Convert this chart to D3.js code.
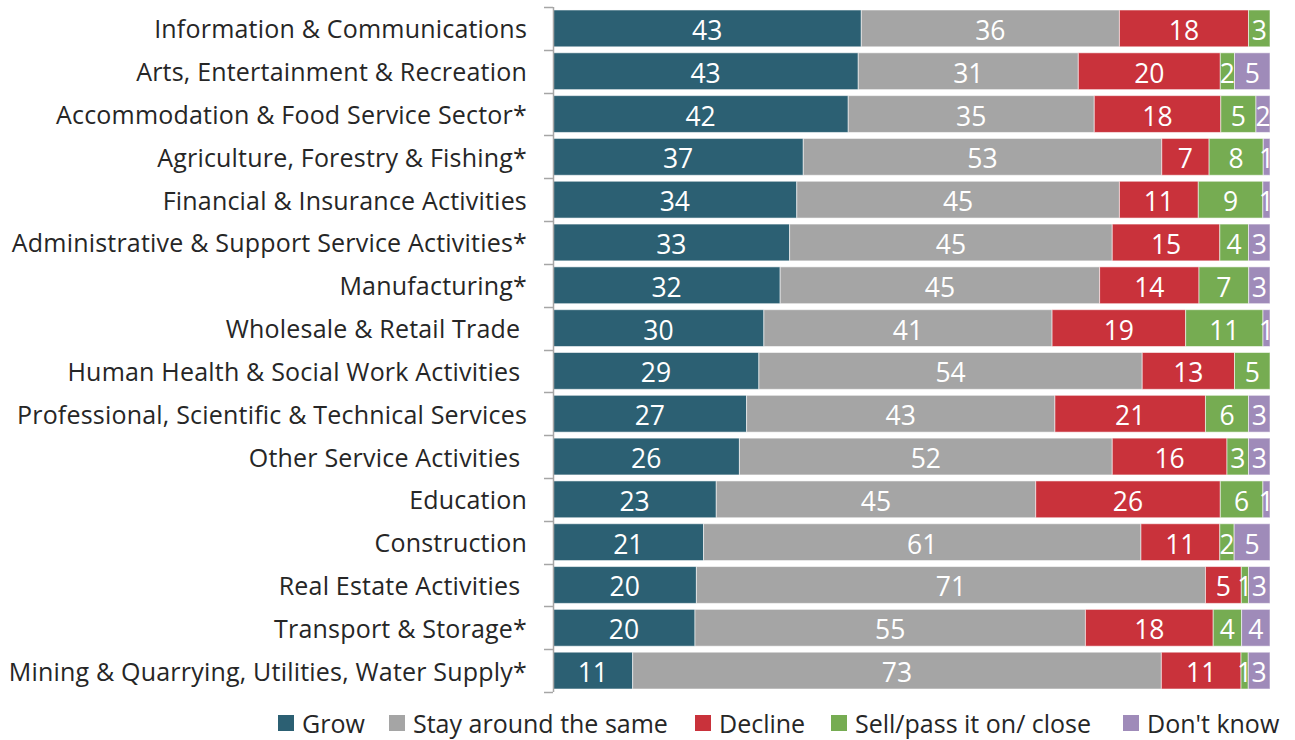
<!DOCTYPE html>
<html>
<head>
<meta charset="utf-8">
<script src="https://cdn.jsdelivr.net/npm/d3@7"></script>
<style>
  html, body { margin: 0; padding: 0; background: #fff; }
  svg { display: block; font-family: "Open Sans", "Noto Sans", sans-serif; }
  text { white-space: pre; }
</style>
</head>
<body>
<svg id="chart" width="1295" height="740"></svg>
<script>
// Sectors, top to bottom
const categories = [
  "Information & Communications",
  "Arts, Entertainment & Recreation",
  "Accommodation & Food Service Sector*",
  "Agriculture, Forestry & Fishing*",
  "Financial & Insurance Activities",
  "Administrative & Support Service Activities*",
  "Manufacturing*",
  "Wholesale & Retail Trade ",
  "Human Health & Social Work Activities ",
  "Professional, Scientific & Technical Services",
  "Other Service Activities ",
  "Education",
  "Construction",
  "Real Estate Activities ",
  "Transport & Storage*",
  "Mining & Quarrying, Utilities, Water Supply*"
];

const seriesNames = ["Grow", "Stay around the same", "Decline", "Sell/pass it on/ close", "Don't know"];

// Percentages per series, one value per sector
const grow    = [43, 43, 42, 37, 34, 33, 32, 30, 29, 27, 26, 23, 21, 20, 20, 11];
const same    = [36, 31, 35, 53, 45, 45, 45, 41, 54, 43, 52, 45, 61, 71, 55, 73];
const decline = [18, 20, 18,  7, 11, 15, 14, 19, 13, 21, 16, 26, 11,  5, 18, 11];
const sell    = [ 3,  2,  5,  8,  9,  4,  7, 11,  5,  6,  3,  6,  2,  1,  4,  1];
const dontKnow= [ 0,  5,  2,  1,  1,  3,  3,  1,  0,  3,  3,  1,  5,  3,  4,  3];

const colors = ["#2c6073", "#a5a5a5", "#c9323b", "#76ac52", "#9f8bb9"];

const seriesValues = [grow, same, decline, sell, dontKnow];

// Build rows for d3.stack, normalised to 100% per sector
const rows = categories.map((c, i) => {
  const r = { category: c };
  seriesNames.forEach((s, k) => { r[s] = seriesValues[k][i]; });
  return r;
});

const stack = d3.stack().keys(seriesNames).offset(d3.stackOffsetExpand);
const layers = stack(rows);

const svg = d3.select("#chart");
const plotLeft = 553, plotRight = 1270, plotTop = 7, plotBottom = 692;

const x = d3.scaleLinear().domain([0, 1]).range([plotLeft, plotRight]);
const y = d3.scaleBand().domain(categories).range([plotTop, plotBottom])
  .paddingInner(0.14).paddingOuter(0.07);
const color = d3.scaleOrdinal().domain(seriesNames).range(colors);

// Segments
const g = svg.append("g");
g.selectAll("g.layer").data(layers).join("g")
  .attr("class", "layer")
  .attr("fill", d => color(d.key))
  .selectAll("rect").data(d => d.map(p => ({ p, key: d.key })))
  .join("rect")
  .attr("x", d => x(d.p[0]))
  .attr("y", d => y(d.p.data.category))
  .attr("width", d => Math.max(0, x(d.p[1]) - x(d.p[0])))
  .attr("height", y.bandwidth())
  .attr("stroke", "#ffffff")
  .attr("stroke-opacity", 0.55)
  .attr("stroke-width", 1);

// Value labels, clipped to the plot area
svg.append("clipPath").attr("id", "plotClip")
  .append("rect").attr("x", plotLeft).attr("y", 0).attr("width", plotRight - plotLeft).attr("height", 740);

const lab = svg.append("g").attr("clip-path", "url(#plotClip)");
layers.forEach(layer => {
  layer.forEach(p => {
    const v = p.data[layer.key];
    if (!v) return;
    lab.append("text")
      .attr("x", (x(p[0]) + x(p[1])) / 2)
      .attr("y", y(p.data.category) + y.bandwidth() / 2 + 1.5)
      .attr("text-anchor", "middle")
      .attr("dominant-baseline", "central")
      .attr("fill", "#ffffff")
      .attr("font-size", 26.5)
      .text(v);
  });
});

// Category axis: line with ticks between bands
const axis = svg.append("g");
const step = y.step();
const boundaries = [plotTop].concat(categories.map(c => y(c) + y.bandwidth() + (step - y.bandwidth()) / 2));
axis.append("line")
  .attr("x1", plotLeft + 0.5).attr("x2", plotLeft + 0.5)
  .attr("y1", plotTop).attr("y2", plotBottom)
  .attr("stroke", "#a6a6a6").attr("stroke-width", 1.5);
axis.selectAll("line.tick").data(boundaries).join("line")
  .attr("class", "tick")
  .attr("x1", plotLeft - 9).attr("x2", plotLeft)
  .attr("y1", d => Math.round(d) + 0.5).attr("y2", d => Math.round(d) + 0.5)
  .attr("stroke", "#a6a6a6").attr("stroke-width", 1.5);

axis.selectAll("text.cat").data(categories).join("text")
  .attr("class", "cat")
  .attr("x", 527)
  .attr("y", d => y(d) + y.bandwidth() / 2)
  .attr("text-anchor", "end")
  .attr("dominant-baseline", "central")
  .attr("fill", "#262626")
  .attr("font-size", 25)
  .attr("letter-spacing", 0.2)
  .text(d => d);

// Legend
const legendItems = [
  { name: "Grow", x: 278 },
  { name: "Stay around the same", x: 389 },
  { name: "Decline", x: 695 },
  { name: "Sell/pass it on/ close", x: 831 },
  { name: "Don't know", x: 1123 }
];
const legend = svg.append("g");
legendItems.forEach(it => {
  legend.append("rect")
    .attr("x", it.x).attr("y", 715).attr("width", 16).attr("height", 16)
    .attr("fill", color(it.name));
  legend.append("text")
    .attr("x", it.x + 24).attr("y", 723)
    .attr("dominant-baseline", "central")
    .attr("fill", "#262626")
    .attr("font-size", 25)
    .text(it.name);
});
</script>
</body>
</html>
